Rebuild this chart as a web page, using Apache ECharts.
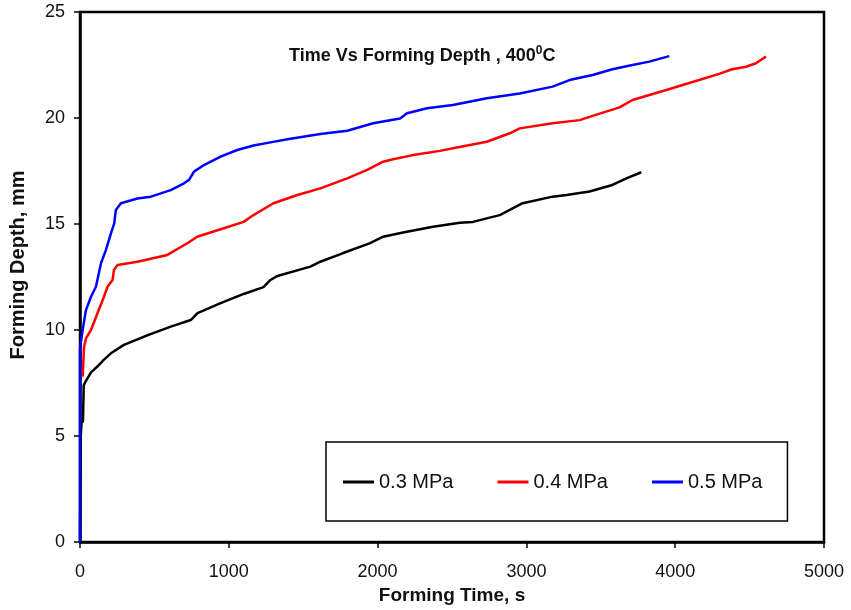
<!DOCTYPE html>
<html>
<head>
<meta charset="utf-8">
<script src="https://cdn.jsdelivr.net/npm/echarts@6/dist/echarts.min.js"></script>
<style>
  html, body { margin: 0; padding: 0; background: #fff; }
  #chart { width: 851px; height: 610px; }
</style>
</head>
<body>
<div id="chart"></div>
<script>
// Forming time (s) / forming depth (mm)
const seriesNames = ['0.3 MPa', '0.4 MPa', '0.5 MPa'];
const seriesColors = ['#000000', '#ff0000', '#0000ff'];

const time03 = [0, 5, 10, 20, 25, 40, 74, 120, 161, 208, 295, 456, 610, 744, 790, 945, 1100, 1233, 1280, 1327, 1548, 1615, 1769, 1950, 2037, 2171, 2372, 2553, 2640, 2821, 2975, 3176, 3270, 3424, 3578, 3672, 3772];
const depth03 = [0, 5.0, 5.6, 5.7, 7.4, 7.6, 8.0, 8.3, 8.6, 8.9, 9.3, 9.76, 10.16, 10.47, 10.8, 11.27, 11.7, 12.02, 12.36, 12.55, 12.99, 13.22, 13.63, 14.1, 14.4, 14.6, 14.87, 15.06, 15.1, 15.42, 15.98, 16.29, 16.37, 16.53, 16.84, 17.15, 17.44];

const time04 = [18, 27, 40, 74, 118, 161, 185, 219, 228, 252, 386, 587, 721, 788, 945, 1100, 1166, 1300, 1461, 1615, 1796, 1930, 2037, 2104, 2238, 2419, 2506, 2734, 2888, 2955, 3176, 3358, 3445, 3626, 3713, 3940, 4161, 4295, 4382, 4476, 4543, 4610];
const depth04 = [7.8, 9.2, 9.6, 10.0, 10.8, 11.57, 12.04, 12.36, 12.83, 13.07, 13.22, 13.54, 14.09, 14.4, 14.75, 15.1, 15.42, 15.98, 16.37, 16.68, 17.15, 17.55, 17.94, 18.05, 18.25, 18.45, 18.57, 18.88, 19.28, 19.51, 19.75, 19.9, 20.1, 20.5, 20.85, 21.32, 21.79, 22.08, 22.3, 22.42, 22.58, 22.9];

const time05 = [0, 0, 18, 40, 74, 107, 141, 174, 208, 230, 241, 275, 386, 476, 610, 699, 733, 766, 833, 945, 1057, 1166, 1280, 1394, 1615, 1796, 1970, 2151, 2198, 2332, 2506, 2734, 2955, 3176, 3290, 3445, 3578, 3713, 3826, 3960];
const depth05 = [0, 9.15, 10.0, 10.94, 11.57, 12.04, 13.15, 13.77, 14.56, 15.03, 15.66, 15.98, 16.2, 16.29, 16.6, 16.92, 17.08, 17.47, 17.78, 18.18, 18.49, 18.7, 18.85, 19.0, 19.25, 19.4, 19.75, 19.98, 20.22, 20.46, 20.61, 20.93, 21.16, 21.48, 21.79, 22.03, 22.3, 22.5, 22.66, 22.92];

const xTicks = [0, 1000, 2000, 3000, 4000, 5000];
const yTicks = [0, 5, 10, 15, 20, 25];

const allTimes = [time03, time04, time05];
const allDepths = [depth03, depth04, depth05];

const chart = echarts.init(document.getElementById('chart'));

const font = 'Arial, "Liberation Sans", sans-serif';

const option = {
  backgroundColor: '#fff',
  animation: false,
  title: {
    text: '{a|Time Vs Forming Depth , 400}{s|0}{a|C}',
    left: 284,
    top: 40,
    textStyle: {
      rich: {
        a: { fontFamily: font, fontSize: 18, fontWeight: 'bold', color: '#111' },
        s: { fontFamily: font, fontSize: 12, fontWeight: 'bold', color: '#111', padding: [0, 0, 10, 0] }
      }
    }
  },
  legend: {
    data: seriesNames,
    left: 326,
    top: 442,
    padding: [30, 25, 29, 17],
    itemGap: 44,
    itemWidth: 31,
    itemHeight: 3,
    icon: 'rect',
    borderColor: '#000',
    borderWidth: 1.5,
    backgroundColor: '#fff',
    textStyle: { fontFamily: font, fontSize: 20, color: '#111' }
  },
  grid: {
    left: 79,
    right: 27,
    top: 12,
    bottom: 68,
    show: true,
    borderColor: '#000',
    borderWidth: 2.5,
    backgroundColor: '#fff'
  },
  xAxis: {
    type: 'value',
    min: xTicks[0],
    max: xTicks[xTicks.length - 1],
    interval: 1000,
    name: 'Forming Time, s',
    nameLocation: 'middle',
    nameGap: 39,
    nameTextStyle: { fontFamily: font, fontSize: 19, fontWeight: 'bold', color: '#111' },
    axisLine: { lineStyle: { color: '#000', width: 2.5 } },
    axisTick: { inside: false, length: 6, lineStyle: { color: '#000', width: 1.5 } },
    axisLabel: { fontFamily: font, fontSize: 18, color: '#111', margin: 21, formatter: v => String(v) },
    splitLine: { show: false }
  },
  yAxis: {
    type: 'value',
    min: yTicks[0],
    max: yTicks[yTicks.length - 1],
    interval: 5,
    name: 'Forming Depth, mm',
    nameLocation: 'middle',
    nameGap: 52,
    nameTextStyle: { fontFamily: font, fontSize: 20, fontWeight: 'bold', color: '#111', padding: [0, 0, 0, 24] },
    axisLine: { lineStyle: { color: '#000', width: 2.5 } },
    axisTick: { inside: false, length: 6, lineStyle: { color: '#000', width: 1.5 } },
    axisLabel: { fontFamily: font, fontSize: 18, color: '#111', margin: 15 },
    splitLine: { show: false }
  },
  series: seriesNames.map((name, i) => ({
    name: name,
    type: 'line',
    symbol: 'none',
    smooth: false,
    data: allTimes[i].map((t, k) => [t, allDepths[i][k]]),
    lineStyle: { color: seriesColors[i], width: 2.5 },
    itemStyle: { color: seriesColors[i] },
    z: 2 + i
  }))
};

chart.setOption(option);
</script>
</body>
</html>
